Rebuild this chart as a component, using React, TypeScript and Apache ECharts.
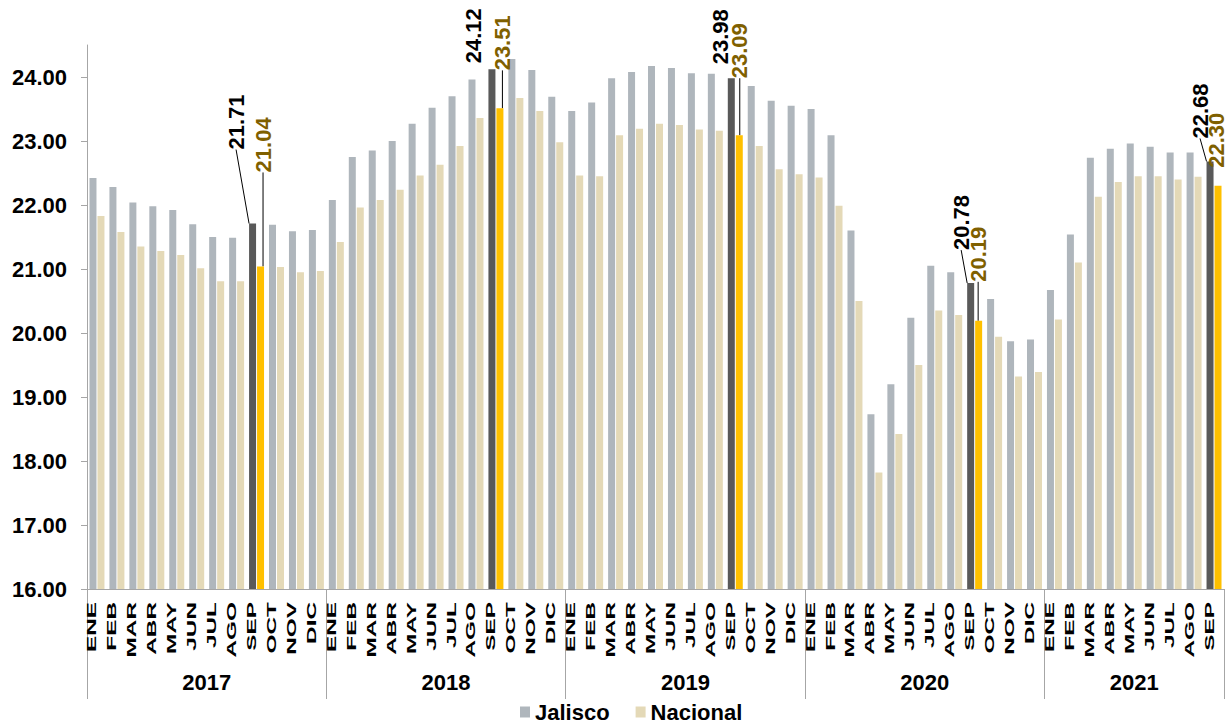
import React, { useEffect, useRef } from "react";
import * as echarts from "echarts";

const monthNames = ["ENE", "FEB", "MAR", "ABR", "MAY", "JUN", "JUL", "AGO", "SEP", "OCT", "NOV", "DIC"];
const years = ["2017", "2018", "2019", "2020", "2021"];
const monthsPerYear = [12, 12, 12, 12, 9];

const jalisco = [
  22.42, 22.28, 22.04, 21.98, 21.92, 21.70, 21.50, 21.49, 21.71, 21.69, 21.59, 21.61,
  22.08, 22.75, 22.85, 23.00, 23.27, 23.52, 23.70, 23.96, 24.12, 24.28, 24.11, 23.69,
  23.47, 23.60, 23.98, 24.08, 24.17, 24.14, 24.06, 24.05, 23.98, 23.86, 23.63, 23.55,
  23.50, 23.09, 21.60, 18.73, 19.20, 20.24, 21.05, 20.95, 20.78, 20.53, 19.87, 19.90,
  20.67, 21.54, 22.74, 22.88, 22.96, 22.91, 22.82, 22.82, 22.68,
];
const nacional = [
  21.83, 21.58, 21.35, 21.28, 21.22, 21.01, 20.81, 20.81, 21.04, 21.03, 20.95, 20.97,
  21.42, 21.96, 22.08, 22.24, 22.46, 22.63, 22.92, 23.36, 23.51, 23.67, 23.47, 22.98,
  22.46, 22.45, 23.09, 23.19, 23.27, 23.25, 23.18, 23.16, 23.09, 22.92, 22.56, 22.48,
  22.43, 21.99, 20.50, 17.82, 18.42, 19.50, 20.35, 20.28, 20.19, 19.94, 19.32, 19.39,
  20.21, 21.10, 22.13, 22.36, 22.45, 22.45, 22.40, 22.44, 22.30,
];
const yTickValues = [16, 17, 18, 19, 20, 21, 22, 23, 24];
const yMin = 16;
const yMax = 24.5;

// highlighted months (SEP of each year)
const highlightIdx = [8, 20, 32, 44, 56];
// label placement styling: [dx from bar centre, gap above bar top, show leader line]
const jalLabelPos: [number, number, boolean][] = [[-16.5, 74, true], [-18, 6, false], [-10.5, 14, false], [-9.5, 33, true], [-10, 23, true]];
const nacLabelPos: [number, number, boolean][] = [[2.5, 94, true], [2.5, 38, true], [0.5, 57, true], [-0.5, 39, true], [-1.5, 18, false]];

const FONT = '"Liberation Sans", Arial, sans-serif';
const C_JAL = "#AFB6BC";
const C_NAC = "#E4D9B7";
const C_JAL_HI = "#595959";
const C_NAC_HI = "#FFC000";
const C_NAC_LBL = "#7F6000";
const AXIS_GRAY = "#A6A6A6";

const categories: string[] = [];
years.forEach((y, yi) => {
  for (let m = 0; m < monthsPerYear[yi]; m++) categories.push(monthNames[m]);
});
const yearBounds: number[] = [0];
monthsPerYear.forEach((n) => yearBounds.push(yearBounds[yearBounds.length - 1] + n));
const yearCenters = years.map((_, i) => (yearBounds[i] + yearBounds[i + 1]) / 2);

function buildData(values: number[], hiColor: string, lblColor: string, pos: [number, number, boolean][]) {
  return values.map((v, i) => {
    const k = highlightIdx.indexOf(i);
    if (k < 0) return v;
    return {
      value: v,
      itemStyle: { color: hiColor },
      label: {
        show: true,
        rotate: 90,
        formatter: (p: any) => Number(p.value).toFixed(2),
        fontFamily: FONT,
        fontSize: 22,
        fontWeight: "bold",
        color: lblColor,
      },
      labelLine: { show: pos[k][2], lineStyle: { color: "#000", width: 1 } },
    };
  });
}

function makeLayout(pos: [number, number, boolean][]) {
  return (params: any) => {
    const k = highlightIdx.indexOf(params.dataIndex);
    if (k < 0) return {};
    const r = params.rect;
    return {
      x: r.x + r.width / 2 + pos[k][0],
      y: r.y - pos[k][1],
      rotate: 90,
      align: "left",
      verticalAlign: "middle",
    };
  };
}

export default function App() {
  const ref = useRef<HTMLDivElement>(null);
  useEffect(() => {
    if (!ref.current) return;
    const chart = echarts.init(ref.current, undefined, { renderer: "svg" });
    chart.setOption({
      animation: false,
      backgroundColor: "#ffffff",
      textStyle: { fontFamily: FONT },
      grid: { left: 87, right: 3, top: 45, bottom: 134, containLabel: false },
      legend: {
        data: ["Jalisco", "Nacional"],
        left: 515,
        top: 696,
        icon: "rect",
        itemWidth: 10,
        itemHeight: 11,
        itemGap: 26,
        textStyle: { fontFamily: FONT, fontSize: 22, fontWeight: "bold", color: "#000" },
      },
      xAxis: [
        {
          type: "category",
          data: categories,
          position: "bottom",
          axisLine: { show: true, lineStyle: { color: AXIS_GRAY, width: 1 } },
          axisTick: { show: false },
          axisLabel: { show: false },
          splitLine: { show: false },
        },
        {
          type: "value",
          min: 0,
          max: yearBounds[yearBounds.length - 1],
          position: "bottom",
          axisLine: { show: false },
          splitLine: { show: false },
          axisTick: {
            show: true,
            customValues: yearBounds,
            length: 110,
            inside: false,
            lineStyle: { color: AXIS_GRAY, width: 1 },
          },
          axisLabel: {
            show: true,
            customValues: yearCenters,
            margin: 82,
            formatter: (v: number) => {
              const i = yearCenters.indexOf(v);
              return i >= 0 ? years[i] : "";
            },
            fontFamily: FONT,
            fontSize: 22,
            fontWeight: "bold",
            color: "#000",
          },
        },
      ],
      yAxis: {
        type: "value",
        min: yMin,
        max: yMax,
        axisLine: { show: true, lineStyle: { color: AXIS_GRAY, width: 1 } },
        axisTick: { show: true, length: 6, customValues: yTickValues, lineStyle: { color: AXIS_GRAY } },
        splitLine: { show: false },
        axisLabel: {
          customValues: yTickValues,
          margin: 20,
          formatter: (v: number) => v.toFixed(2),
          fontFamily: FONT,
          fontSize: 22,
          fontWeight: "bold",
          color: "#000",
        },
      },
      series: [
        {
          name: "Jalisco",
          type: "bar",
          xAxisIndex: 0,
          data: buildData(jalisco, C_JAL_HI, "#000", jalLabelPos),
          itemStyle: { color: C_JAL },
          barWidth: 7,
          barGap: "14%",
          label: { show: false },
          labelLayout: makeLayout(jalLabelPos),
        },
        {
          name: "Nacional",
          type: "bar",
          xAxisIndex: 0,
          data: buildData(nacional, C_NAC_HI, C_NAC_LBL, nacLabelPos),
          itemStyle: { color: C_NAC },
          barWidth: 7,
          barGap: "14%",
          label: { show: false },
          labelLayout: makeLayout(nacLabelPos),
        },
        {
          type: "custom",
          xAxisIndex: 0,
          silent: true,
          clip: false,
          encode: { x: 0, y: 1 },
          data: categories.map((_, i) => [i, yMin]),
          renderItem: (params: any, api: any) => {
            const idx = api.value(0);
            const p = api.coord([idx, yMin]);
            return {
              type: "text",
              x: p[0] - 5,
              y: p[1] + 13,
              rotation: Math.PI / 2,
              scaleX: 1.95,
              scaleY: 1,
              style: {
                text: categories[idx],
                fontFamily: FONT,
                fontSize: 12.5,
                fontWeight: "bold",
                fill: "#000",
                align: "right",
                verticalAlign: "middle",
              },
            };
          },
        },
      ],
    });
    return () => chart.dispose();
  }, []);
  return (
    <div
      ref={ref}
      style={{ position: "absolute", left: 0, top: 0, width: 1227, height: 723, background: "#fff" }}
    />
  );
}
